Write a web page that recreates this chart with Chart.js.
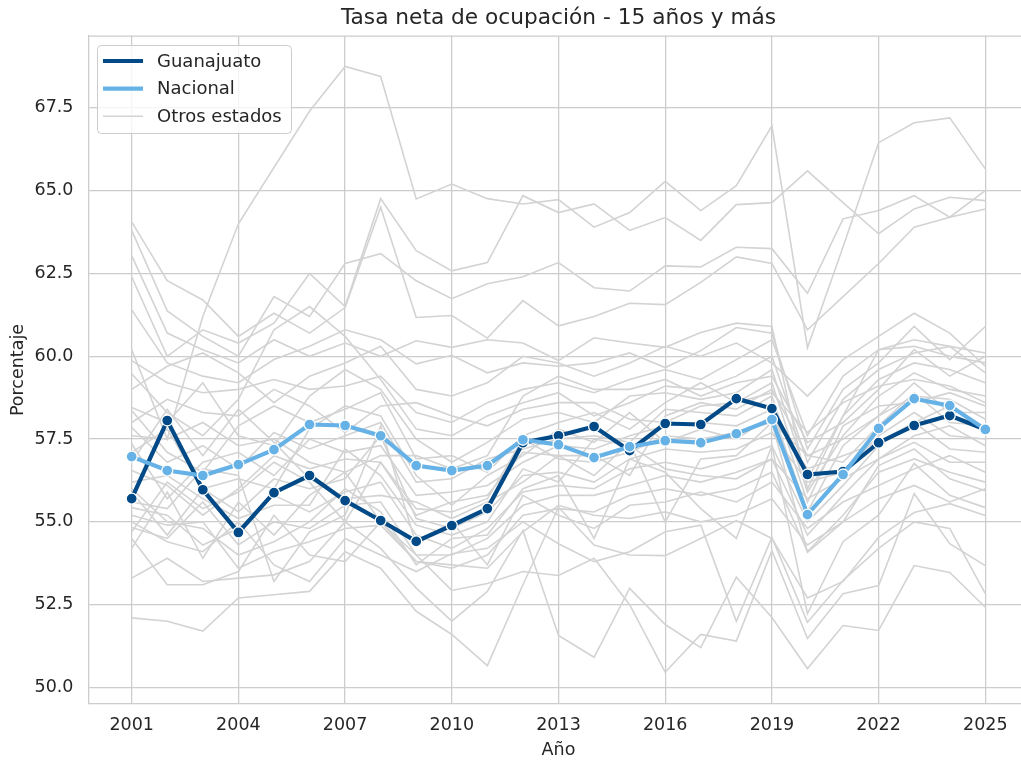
<!DOCTYPE html>
<html lang="es">
<head>
<meta charset="utf-8">
<title>Tasa neta de ocupación - 15 años y más</title>
<script src="https://cdn.jsdelivr.net/npm/chart.js@4.4.1/dist/chart.umd.min.js"></script>
<style>
  html, body { margin: 0; padding: 0; background: #ffffff; overflow: hidden; }
  #wrap { width: 1040px; height: 767px; }
</style>
</head>
<body>
<div id="wrap"><canvas id="js-line-chart" width="1040" height="767"></canvas></div>
<script>
// Datos
const years = [2001, 2002, 2003, 2004, 2005, 2006, 2007, 2008, 2009, 2010, 2011, 2012, 2013,
  2014, 2015, 2016, 2017, 2018, 2019, 2020, 2021, 2022, 2023, 2024, 2025];

const guanajuato = [55.70, 58.06, 55.97, 54.68, 55.88, 56.40, 55.64, 55.04, 54.41, 54.89, 55.40, 57.39, 57.60,
  57.88, 57.15, 57.97, 57.94, 58.72, 58.42, 56.43, 56.52, 57.39, 57.91, 58.21, 57.79];

const nacional = [56.97, 56.55, 56.40, 56.73, 57.18, 57.94, 57.91, 57.60, 56.70, 56.55, 56.70, 57.48, 57.33,
  56.94, 57.27, 57.45, 57.39, 57.66, 58.09, 55.22, 56.43, 57.82, 58.72, 58.51, 57.79];

// una fila por estado (31)
const otrosEstados = [
  [60.2, 57.5, 61.2, 64.0, 65.7, 67.4, 68.75, 68.45, 64.75, 65.2, 64.76, 64.6, 64.73, 63.9, 64.34, 65.28, 64.4, 65.15, 66.96, 60.26, 63.3, 66.45, 67.05, 67.2, 65.66],
  [62.4, 60.0, 60.8, 60.4, 61.0, 62.5, 61.5, 64.76, 63.19, 62.58, 62.83, 64.85, 64.34, 64.6, 63.8, 64.19, 63.5, 64.58, 64.64, 65.6, 64.64, 63.7, 64.45, 64.8, 64.7],
  [63.8, 61.37, 60.6, 60.0, 61.8, 61.2, 62.8, 63.1, 62.28, 61.74, 62.19, 62.4, 62.83, 62.07, 61.97, 62.73, 62.7, 63.29, 63.25, 61.9, 64.15, 64.4, 64.85, 64.2, 65.0],
  [64.06, 62.28, 61.7, 60.6, 61.3, 60.7, 61.47, 64.5, 61.17, 61.23, 60.55, 61.68, 60.92, 61.2, 61.6, 61.56, 62.23, 63.0, 62.8, 60.8, 61.8, 62.8, 63.9, 64.2, 64.45],
  [63.04, 60.7, 60.2, 59.8, 60.5, 60.0, 60.4, 60.0, 60.47, 60.27, 60.5, 60.4, 59.87, 60.56, 60.4, 60.27, 60.72, 61.0, 60.9, 56.0, 58.2, 60.2, 60.5, 60.3, 60.1],
  [61.4, 59.8, 59.4, 59.2, 59.9, 60.3, 60.8, 60.5, 59.77, 60.03, 59.5, 59.8, 59.7, 59.8, 60.1, 59.66, 60.17, 60.87, 60.7, 57.2, 59.0, 59.8, 60.9, 59.9, 60.9],
  [59.87, 59.2, 58.9, 59.0, 59.3, 59.0, 59.1, 59.4, 58.3, 58.0, 58.6, 59.0, 59.2, 58.9, 59.3, 59.6, 59.3, 59.9, 60.5, 57.6, 59.4, 60.2, 60.3, 60.0, 59.8],
  [59.47, 58.3, 57.6, 58.7, 60.8, 61.5, 60.6, 59.3, 57.8, 57.6, 58.2, 58.6, 58.9, 58.2, 58.6, 59.1, 59.0, 59.4, 60.0, 56.8, 58.7, 59.6, 60.1, 60.3, 59.5],
  [58.45, 58.0, 59.2, 57.6, 57.3, 58.8, 59.6, 59.0, 57.5, 56.8, 57.4, 58.1, 58.3, 58.0, 58.8, 58.9, 58.7, 58.9, 59.6, 56.3, 58.2, 59.3, 59.8, 59.6, 59.2],
  [58.36, 57.1, 56.5, 57.9, 58.5, 58.0, 58.4, 58.9, 56.9, 57.0, 56.5, 57.6, 58.0, 58.3, 57.8, 58.6, 59.2, 58.6, 59.2, 55.9, 57.6, 58.8, 59.5, 59.0, 58.8],
  [57.85, 56.8, 57.3, 56.6, 57.7, 57.2, 57.6, 58.0, 56.2, 56.3, 56.9, 57.2, 57.5, 57.6, 57.4, 58.4, 58.3, 58.2, 58.8, 55.6, 57.9, 58.5, 58.6, 58.9, 58.5],
  [57.36, 55.7, 56.8, 57.1, 56.4, 57.5, 57.1, 57.3, 55.8, 55.9, 56.1, 56.8, 57.3, 57.2, 57.6, 57.9, 58.0, 57.9, 58.4, 55.3, 57.3, 58.2, 59.2, 58.3, 58.3],
  [56.55, 56.1, 55.2, 56.0, 57.0, 56.6, 56.9, 56.8, 55.4, 55.3, 55.7, 57.5, 56.9, 56.8, 57.1, 57.6, 57.5, 57.7, 58.0, 57.0, 56.8, 57.9, 58.9, 58.0, 57.9],
  [55.9, 54.6, 56.0, 55.3, 56.3, 56.0, 56.3, 57.6, 55.1, 54.8, 55.3, 56.4, 56.5, 56.2, 56.9, 57.2, 57.1, 57.2, 57.7, 56.2, 56.5, 57.6, 58.3, 57.6, 57.5],
  [55.43, 55.2, 54.3, 54.8, 55.8, 55.3, 55.9, 56.2, 54.6, 54.2, 54.8, 55.9, 56.1, 56.0, 56.6, 56.8, 56.6, 56.9, 57.3, 55.0, 56.1, 57.3, 58.0, 57.2, 57.1],
  [54.83, 54.5, 55.6, 54.3, 55.0, 54.8, 55.5, 55.6, 54.0, 54.0, 54.5, 55.5, 55.8, 55.8, 56.1, 56.4, 56.2, 56.5, 56.9, 54.6, 55.8, 56.9, 57.4, 56.8, 56.8],
  [54.2, 55.9, 53.9, 55.6, 54.6, 55.8, 56.5, 55.0, 53.8, 53.6, 54.0, 55.2, 55.4, 55.3, 55.8, 56.0, 55.8, 56.0, 56.5, 54.1, 55.2, 56.5, 56.9, 56.5, 56.2],
  [59.0, 59.7, 60.1, 59.5, 58.6, 59.4, 59.8, 60.3, 59.0, 58.8, 59.2, 60.0, 59.8, 59.4, 59.8, 60.3, 60.0, 60.4, 59.8, 58.8, 59.9, 60.6, 61.3, 60.7, 59.7],
  [58.0, 58.7, 58.3, 58.2, 59.0, 58.5, 57.7, 58.5, 58.6, 58.2, 57.9, 58.4, 58.6, 58.6, 58.1, 58.0, 58.5, 58.6, 58.9, 57.7, 58.6, 59.1, 59.3, 59.1, 58.6],
  [57.6, 57.5, 58.0, 57.3, 57.5, 56.8, 56.5, 57.0, 57.0, 56.6, 57.0, 58.8, 59.4, 59.0, 59.0, 59.3, 58.8, 59.2, 59.4, 57.4, 58.0, 59.0, 60.2, 59.4, 60.0],
  [57.1, 57.8, 56.0, 56.3, 56.0, 57.8, 58.5, 58.2, 56.4, 55.5, 56.4, 57.0, 57.8, 57.4, 58.3, 57.4, 57.8, 57.5, 58.2, 56.6, 57.0, 57.4, 58.0, 58.5, 57.7],
  [56.8, 58.4, 57.0, 58.4, 57.4, 56.3, 55.7, 55.8, 55.6, 55.1, 55.6, 56.2, 57.0, 57.0, 56.4, 58.2, 58.6, 58.4, 59.0, 57.0, 57.5, 58.2, 58.8, 58.7, 58.1],
  [56.2, 56.4, 55.7, 55.1, 55.5, 55.5, 57.2, 56.4, 54.9, 54.6, 55.0, 56.6, 56.2, 57.5, 57.3, 56.6, 56.4, 56.3, 56.9, 55.7, 56.3, 56.9, 57.6, 57.9, 57.3],
  [55.6, 55.4, 56.6, 56.4, 53.2, 54.7, 55.2, 57.9, 54.3, 55.0, 53.7, 55.8, 55.2, 54.8, 55.5, 55.6, 55.9, 55.6, 56.2, 54.8, 55.6, 56.1, 56.6, 57.0, 56.5],
  [55.2, 54.9, 55.0, 53.6, 54.1, 54.4, 54.8, 54.9, 53.8, 53.7, 53.6, 54.7, 55.5, 55.2, 55.1, 55.3, 55.0, 55.2, 55.7, 54.3, 55.0, 55.7, 56.1, 55.6, 56.0],
  [52.1, 52.0, 51.7, 52.7, 52.8, 52.9, 54.1, 53.6, 52.3, 51.6, 50.66, 53.1, 55.44, 54.3, 54.0, 53.98, 54.5, 55.04, 54.5, 52.7, 53.2, 54.53, 55.28, 55.55, 55.19],
  [53.3, 53.9, 53.2, 53.3, 53.4, 53.8, 55.0, 54.2, 53.0, 52.0, 52.9, 54.74, 51.57, 50.91, 52.99, 51.9, 51.2, 53.33, 52.11, 50.57, 51.87, 51.72, 53.68, 53.47, 52.42],
  [54.5, 53.1, 53.1, 53.5, 55.2, 54.0, 53.8, 55.0, 54.0, 52.93, 53.14, 53.5, 53.38, 53.9, 52.5, 50.46, 51.6, 51.4, 54.13, 51.48, 52.83, 53.08, 55.85, 54.34, 53.68],
  [55.0, 54.4, 54.1, 55.0, 53.7, 53.2, 54.5, 54.0, 53.5, 54.04, 54.2, 55.0, 54.34, 53.8, 54.1, 54.7, 54.9, 52.0, 54.53, 51.97, 53.23, 54.2, 55.0, 54.8, 52.83],
  [56.0, 55.0, 54.8, 54.0, 54.4, 55.0, 56.0, 55.3, 53.7, 54.5, 54.6, 56.0, 56.4, 54.5, 56.9, 56.5, 55.4, 54.5, 57.3, 52.23, 54.4, 55.2, 56.76, 55.8, 55.43],
  [54.7, 56.2, 55.4, 55.9, 56.8, 56.2, 55.0, 56.8, 55.2, 55.6, 55.8, 57.1, 57.0, 56.4, 57.4, 55.0, 56.9, 57.0, 58.0, 54.08, 55.0, 56.7, 57.2, 56.3, 55.94],
];

const xTicks = [2001, 2004, 2007, 2010, 2013, 2016, 2019, 2022, 2025];
const yTicks = [50.0, 52.5, 55.0, 57.5, 60.0, 62.5, 65.0, 67.5];

const colorGto = "#014a87";
const colorNac = "#66b2e6";
const colorOtros = "#d3d3d3";
const gridColor = "#cccccc";
const textColor = "#262626";
const fontFamily = "'DejaVu Sans', sans-serif";

function toPoints(values) {
  return values.map((v, i) => ({ x: years[i], y: v }));
}

const greyDatasets = otrosEstados.map((serie) => ({
  label: "Otros estados",
  data: toPoints(serie),
  borderColor: colorOtros,
  borderWidth: 1.6,
  pointRadius: 0,
  pointHoverRadius: 0,
  tension: 0,
  order: 3,
}));

const legendOrder = ["Guanajuato", "Nacional", "Otros estados"];

//Legend box like matplotlib (top left inside the axes)
const legendBox = {
  id: "legendBox",
  afterDatasetsDraw(chart) {
    const { ctx } = chart;
    const seen = [];
    const items = [];
    chart.data.datasets.forEach((ds) => {
      if (seen.includes(ds.label)) return;
      seen.push(ds.label);
      items.push({ text: ds.label, color: ds.borderColor, width: ds.borderWidth });
    });
    items.sort((a, b) => legendOrder.indexOf(a.text) - legendOrder.indexOf(b.text));

    ctx.save();
    ctx.beginPath();
    ctx.roundRect(97.5, 45.5, 194, 88, 4);
    ctx.fillStyle = "rgba(255,255,255,0.8)";
    ctx.fill();
    ctx.strokeStyle = gridColor;
    ctx.lineWidth = 1;
    ctx.stroke();

    ctx.font = "18px " + fontFamily;
    ctx.textBaseline = "middle";
    ctx.textAlign = "left";
    items.forEach((it, i) => {
      const y = 61 + i * 27.6;
      ctx.beginPath();
      ctx.moveTo(103, y);
      ctx.lineTo(143, y);
      ctx.strokeStyle = it.color;
      ctx.lineWidth = it.width;
      ctx.stroke();
      ctx.fillStyle = textColor;
      ctx.fillText(it.text, 157, y + 1);
    });
    ctx.restore();
  },
};

//top spine
const topSpine = {
  id: "topSpine",
  beforeDatasetsDraw(chart) {
    const { ctx, chartArea } = chart;
    ctx.save();
    ctx.strokeStyle = gridColor;
    ctx.lineWidth = 1.25;
    ctx.beginPath();
    ctx.moveTo(chartArea.left, chartArea.top);
    ctx.lineTo(chartArea.right, chartArea.top);
    ctx.stroke();
    ctx.restore();
  },
};

const lineChart = document.getElementById("js-line-chart");

const myLineChart = new Chart(lineChart, {
  type: "line",
  data: {
    datasets: [
      {
        label: "Nacional",
        data: toPoints(nacional),
        borderColor: colorNac,
        backgroundColor: colorNac,
        borderWidth: 4.2,
        pointRadius: 5.5,
        pointBorderColor: "#ffffff",
        pointBackgroundColor: colorNac,
        pointBorderWidth: 1.3,
        tension: 0,
        order: 0,
      },
      {
        label: "Guanajuato",
        data: toPoints(guanajuato),
        borderColor: colorGto,
        backgroundColor: colorGto,
        borderWidth: 4.2,
        pointRadius: 5.5,
        pointBorderColor: "#ffffff",
        pointBackgroundColor: colorGto,
        pointBorderWidth: 1.3,
        tension: 0,
        order: 1,
      },
      ...greyDatasets,
    ],
  },
  options: {
    responsive: false,
    animation: false,
    devicePixelRatio: 1,
    layout: { padding: { top: 0, left: 0, right: 12, bottom: 0 } },
    plugins: {
      legend: { display: false },
      tooltip: { enabled: false },
      title: {
        display: true,
        fullSize: false,
        text: "Tasa neta de ocupación - 15 años y más",
        color: textColor,
        font: { family: fontFamily, size: 21.7, weight: "normal" },
        padding: { top: 5, bottom: 5 },
      },
    },
    scales: {
      x: {
        type: "linear",
        min: 1999.8,
        max: 2026.2,
        afterBuildTicks: (axis) => {
          axis.ticks = xTicks.map((v) => ({ value: v }));
        },
        afterFit: (scale) => {
          scale.height = 63;
        },
        ticks: {
          color: textColor,
          font: { family: fontFamily, size: 17.5 },
          padding: 10.5,
          maxRotation: 0,
          autoSkip: false,
          callback: (v) => String(v),
        },
        grid: { color: gridColor, lineWidth: 1.25, drawTicks: false },
        border: { color: gridColor, width: 1.25 },
        title: {
          display: true,
          text: "Año",
          color: textColor,
          font: { family: fontFamily, size: 17.5 },
          padding: { top: 0, bottom: 6.5 },
        },
      },
      y: {
        min: 49.5,
        max: 69.67,
        afterBuildTicks: (axis) => {
          axis.ticks = yTicks.map((v) => ({ value: v }));
        },
        afterFit: (scale) => {
          scale.width = 89;
        },
        ticks: {
          color: textColor,
          font: { family: fontFamily, size: 17.5 },
          padding: 15.5,
          callback: (v) => Number(v).toFixed(1),
        },
        grid: { color: gridColor, lineWidth: 1.25, drawTicks: false },
        border: { color: gridColor, width: 1.25 },
        title: {
          display: true,
          text: "Porcentaje",
          color: textColor,
          font: { family: fontFamily, size: 17.5 },
          padding: { top: 8, bottom: 0 },
        },
      },
    },
  },
  plugins: [topSpine, legendBox],
});
</script>
</body>
</html>
